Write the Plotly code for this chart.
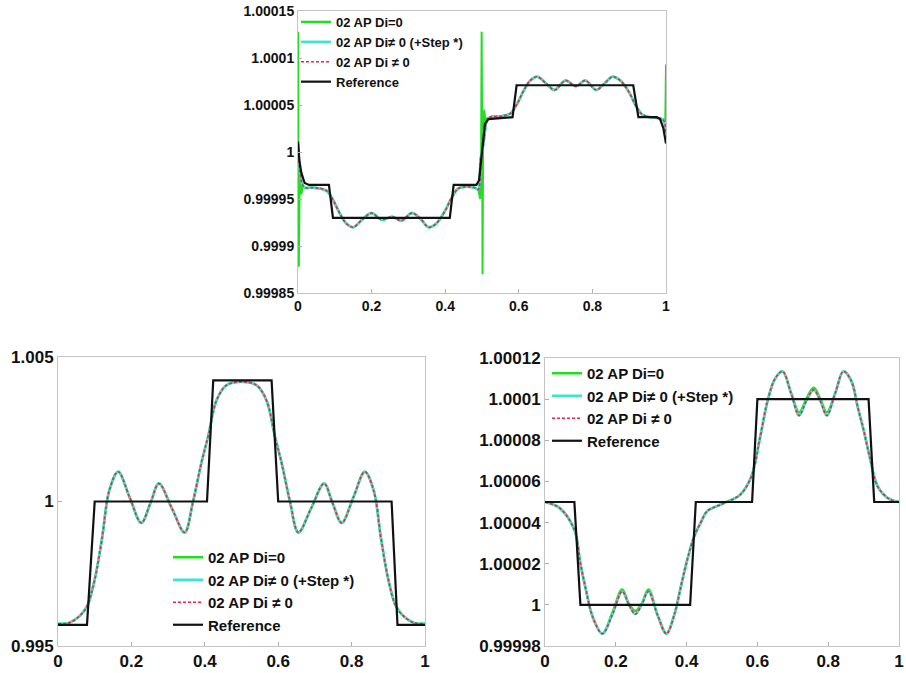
import plotly.graph_objects as go

# ---------------- data: top panel (A) ----------------
refA_x = [0.0, 0.004, 0.009, 0.018, 0.03, 0.084, 0.095, 0.4125, 0.423, 0.485, 0.492, 0.5, 0.508, 0.517,
          0.583, 0.594, 0.911, 0.925, 0.975, 0.984, 0.993, 1.0]
refA_y = [1.000011, 0.99999, 0.999978, 0.999967, 0.999965, 0.999965, 0.99993, 0.99993, 0.999965, 0.999965,
          0.99997, 1.0, 1.00003, 1.000035, 1.000037, 1.000071, 1.000071, 1.000037, 1.000037, 1.000035,
          1.000025, 1.000009]

numA_x = [0.0, 0.005, 0.012, 0.02, 0.045, 0.077, 0.095, 0.113, 0.131, 0.15, 0.174, 0.2, 0.227, 0.256, 0.281,
          0.31, 0.335, 0.355, 0.376, 0.399, 0.417, 0.435, 0.458, 0.48, 0.49, 0.496, 0.5, 0.505, 0.512, 0.521,
          0.55, 0.577, 0.595, 0.613, 0.631, 0.65, 0.674, 0.697, 0.727, 0.755, 0.781, 0.81, 0.833, 0.855, 0.876,
          0.899, 0.917, 0.935, 0.958, 0.98, 0.993, 1.0]
numA_y = [1.000008, 0.99998, 0.999965, 0.999962, 0.999962, 0.999959, 0.999949, 0.999935, 0.999924, 0.99992,
          0.999928, 0.999935, 0.999928, 0.999931, 0.999927, 0.999935, 0.999928, 0.99992, 0.999924, 0.999937,
          0.999951, 0.999961, 0.999963, 0.999962, 0.99996, 0.999992, 1.0, 1.000012, 1.000032, 1.000037,
          1.000038, 1.000041, 1.000051, 1.000065, 1.000076, 1.00008, 1.000073, 1.000066, 1.000076, 1.00007,
          1.000076, 1.000066, 1.000073, 1.00008, 1.000076, 1.000064, 1.00005, 1.00004, 1.000037, 1.000036,
          1.000034, 1.00002]

# green (Di=0) oscillation spikes at the discontinuities
spikeA0_x = [0.0, 0.0012, 0.0022, 0.005, 0.009, 0.014]
spikeA0_y = [1.000128, 0.99995, 0.999878, 0.99999, 0.999955, 0.999965]
spikeA5_x = [0.49, 0.495, 0.4975, 0.499, 0.5005, 0.5015, 0.503, 0.506, 0.51, 0.515]
spikeA5_y = [0.99996, 0.99995, 0.99998, 1.000128, 1.00001, 0.99987, 1.00002, 1.000045, 1.00003, 1.000037]
spikeA1_x = [0.99, 0.995, 0.998, 1.0]
spikeA1_y = [1.000035, 1.000034, 1.00003, 1.000093]

# ---------------- data: bottom-left panel (B) ----------------
refB_x = [0.0, 0.079, 0.1, 0.406, 0.423, 0.582, 0.6, 0.909, 0.925, 1.0]
refB_y = [0.99573, 0.99573, 1.0, 1.0, 1.00419, 1.00419, 1.0, 1.0, 0.99573, 0.99573]

numB_x = [0.0, 0.03, 0.06, 0.08, 0.1, 0.12, 0.14, 0.164, 0.195, 0.227, 0.252, 0.275, 0.31, 0.345, 0.368,
          0.39, 0.409, 0.432, 0.459, 0.5, 0.541, 0.568, 0.591, 0.61, 0.632, 0.655, 0.69, 0.725, 0.748, 0.773,
          0.805, 0.836, 0.86, 0.88, 0.9, 0.92, 0.94, 0.97, 1.0]
numB_y = [0.99577, 0.9958, 0.99605, 0.9964, 0.9973, 0.99873, 1.00039, 1.00103, 1.00015, 0.99926, 0.99995,
          1.00062, 0.99977, 0.99893, 1.0, 1.0013, 1.00225, 1.0035, 1.00402, 1.00414, 1.00402, 1.0035, 1.00225,
          1.0013, 1.0, 0.99893, 0.99977, 1.00062, 0.99995, 0.99926, 1.00015, 1.00103, 1.00039, 0.99873,
          0.9973, 0.9964, 0.99605, 0.9958, 0.99577]

# ---------------- data: bottom-right panel (C) ----------------
refC_x = [0.0, 0.083, 0.1, 0.41, 0.426, 0.585, 0.6, 0.914, 0.93, 1.0]
refC_y = [1.00005, 1.00005, 1.0, 1.0, 1.00005, 1.00005, 1.0001, 1.0001, 1.00005, 1.00005]

numC_x = [0.0, 0.042, 0.083, 0.1, 0.116, 0.135, 0.162, 0.19, 0.218, 0.237, 0.255, 0.273, 0.292, 0.318,
          0.343, 0.365, 0.384, 0.402, 0.421, 0.44, 0.458, 0.505, 0.551, 0.583, 0.606, 0.63, 0.65, 0.671,
          0.695, 0.718, 0.738, 0.759, 0.778, 0.796, 0.82, 0.843, 0.865, 0.884, 0.9, 0.917, 0.94, 0.972, 1.0]
numC_y = [1.00005, 1.000047, 1.0000365, 1.00002, 1.000007, 0.999994, 0.999986, 0.999995, 1.0000065, 1.0,
          0.9999955, 1.0, 1.0000065, 0.999995, 0.999986, 0.999995, 1.000009, 1.000022, 1.000033, 1.00004,
          1.0000455, 1.0000494, 1.0000535, 1.0000624, 1.00008, 1.0001, 1.00011, 1.0001135, 1.000103,
          1.000092, 1.000099, 1.0001045, 1.000099, 1.000092, 1.000103, 1.0001135, 1.000109, 1.0000957,
          1.000085, 1.0000721, 1.0000575, 1.0000515, 1.00005]
greenC_y = [1.00005, 1.000047, 1.0000365, 1.00002, 1.000007, 0.999994, 0.999986, 0.999996, 1.0000075, 1.0000005,
            0.999997, 1.0000005, 1.0000075, 0.999995, 0.999986, 0.999995, 1.000009, 1.000022, 1.000033, 1.00004,
            1.0000455, 1.0000494, 1.0000535, 1.0000624, 1.00008, 1.0001, 1.00011, 1.0001135, 1.000103,
            1.0000935, 1.0001, 1.0001055, 1.0001, 1.0000935, 1.000103, 1.0001135, 1.000109, 1.0000957,
            1.000085, 1.0000721, 1.0000575, 1.0000515, 1.00005]

# ---------------- tick labels ----------------
x_ticks = [0, 0.2, 0.4, 0.6, 0.8, 1]
x_text = ["0", "0.2", "0.4", "0.6", "0.8", "1"]
yA_ticks = [0.99985, 0.9999, 0.99995, 1.0, 1.00005, 1.0001, 1.00015]
yA_text = ["0.99985", "0.9999", "0.99995", "1", "1.00005", "1.0001", "1.00015"]
yB_ticks = [0.995, 1.0, 1.005]
yB_text = ["0.995", "1", "1.005"]
yC_ticks = [0.99998, 1.0, 1.00002, 1.00004, 1.00006, 1.00008, 1.0001, 1.00012]
yC_text = ["0.99998", "1", "1.00002", "1.00004", "1.00006", "1.00008", "1.0001", "1.00012"]

names = ["02 AP Di=0", "02 AP Di\u2260 0 (+Step *)", "02 AP Di \u2260 0", "Reference"]
GREEN = "#22dd22"
CYAN = "#3ae6cc"
RED = "#ee2255"
BLACK = "#111111"

fig = go.Figure()


def add_panel(xa, ya, legend, ref_x, ref_y, num_x, num_y, green_y, spikes=()):
    fig.add_trace(go.Scatter(x=num_x, y=green_y, mode="lines", name=names[0], legend=legend,
                             line=dict(color=GREEN, width=2.5, shape="spline", smoothing=1.0),
                             xaxis=xa, yaxis=ya))
    for sx, sy in spikes:
        fig.add_trace(go.Scatter(x=sx, y=sy, mode="lines", showlegend=False, legend=legend,
                                 line=dict(color=GREEN, width=2), xaxis=xa, yaxis=ya))
    fig.add_trace(go.Scatter(x=num_x, y=num_y, mode="lines", name=names[1], legend=legend,
                             line=dict(color=CYAN, width=2.5, shape="spline", smoothing=1.0),
                             xaxis=xa, yaxis=ya))
    fig.add_trace(go.Scatter(x=num_x, y=num_y, mode="lines", name=names[2], legend=legend,
                             line=dict(color=RED, width=1.6, dash="3px,2px", shape="spline", smoothing=1.0),
                             xaxis=xa, yaxis=ya))
    fig.add_trace(go.Scatter(x=ref_x, y=ref_y, mode="lines", name=names[3], legend=legend,
                             line=dict(color=BLACK, width=2.2), xaxis=xa, yaxis=ya))


add_panel("x", "y", "legend", refA_x, refA_y, numA_x, numA_y, numA_y,
          spikes=[(spikeA0_x, spikeA0_y), (spikeA5_x, spikeA5_y), (spikeA1_x, spikeA1_y)])
add_panel("x2", "y2", "legend2", refB_x, refB_y, numB_x, numB_y, numB_y)
add_panel("x3", "y3", "legend3", refC_x, refC_y, numC_x, numC_y, greenC_y)

W, H = 906, 673


def ax_common(size):
    return dict(showline=True, mirror=True, linecolor="#c4c4c4", linewidth=1, ticks="inside",
                ticklen=4, tickcolor="#b0b0b0", showgrid=False, zeroline=False, automargin=False,
                ticklabeloverflow="allow",
                tickfont=dict(family="Liberation Sans, Arial, sans-serif", size=size, color="#111111",
                              weight="bold"))


def dom_x(l, r):
    return [l / W, r / W]


def dom_y(t, b):
    return [1 - b / H, 1 - t / H]


fig.update_layout(
    width=W, height=H, margin=dict(l=0, r=0, t=0, b=0),
    paper_bgcolor="white", plot_bgcolor="white", template="none",
    xaxis=dict(domain=dom_x(298, 666), range=[0, 1], anchor="y", tickvals=x_ticks, ticktext=x_text,
               **ax_common(14)),
    yaxis=dict(domain=dom_y(11, 293), range=[0.99985, 1.00015], anchor="x", tickvals=yA_ticks,
               ticktext=yA_text, **ax_common(14)),
    xaxis2=dict(domain=dom_x(58, 425), range=[0, 1], anchor="y2", tickvals=x_ticks, ticktext=x_text,
                **ax_common(17)),
    yaxis2=dict(domain=dom_y(357, 646), range=[0.995, 1.005], anchor="x2", tickvals=yB_ticks,
                ticktext=yB_text, **ax_common(17)),
    xaxis3=dict(domain=dom_x(545, 899), range=[0, 1], anchor="y3", tickvals=x_ticks, ticktext=x_text,
                **ax_common(17)),
    yaxis3=dict(domain=dom_y(358, 646), range=[0.99998, 1.00012], anchor="x3", tickvals=yC_ticks,
                ticktext=yC_text, **ax_common(17)),
    legend=dict(x=296 / W, y=1 - 7 / H, xanchor="left", yanchor="top", bgcolor="rgba(0,0,0,0)",
                font=dict(family="Liberation Sans, Arial, sans-serif", size=13, color="#111111",
                          weight="bold"), tracegroupgap=0),
    legend2=dict(x=168 / W, y=1 - 541 / H, xanchor="left", yanchor="top", bgcolor="rgba(0,0,0,0)",
                 font=dict(family="Liberation Sans, Arial, sans-serif", size=15, color="#111111",
                           weight="bold"), tracegroupgap=0),
    legend3=dict(x=547 / W, y=1 - 357 / H, xanchor="left", yanchor="top", bgcolor="rgba(0,0,0,0)",
                 font=dict(family="Liberation Sans, Arial, sans-serif", size=15, color="#111111",
                           weight="bold"), tracegroupgap=0),
)

fig.write_html("out.html")
